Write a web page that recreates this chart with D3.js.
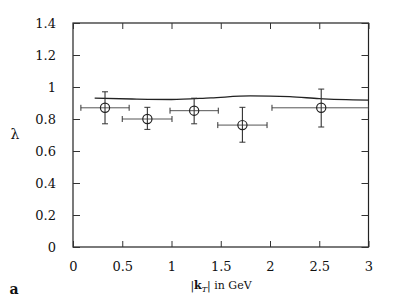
<!DOCTYPE html>
<html><head><meta charset="utf-8">
<script src="https://cdn.jsdelivr.net/npm/d3@7"></script>
<style>body{margin:0;background:#fff}svg{display:block}</style>
</head><body><svg id="c" width="417" height="302"></svg>
<script>
// data
const ptX   = [0.325, 0.755, 1.23, 1.72, 2.52];
const ptY   = [0.870, 0.800, 0.852, 0.762, 0.870];
const xLo   = [0.08, 0.50, 0.985, 1.47, 2.02];
const xHi   = [0.57, 1.005, 1.475, 1.97, 3.0];
const yLo   = [0.77, 0.735, 0.77, 0.655, 0.75];
const yHi   = [0.97, 0.873, 0.93, 0.873, 0.987];
const curveX = [0.22, 0.6, 1.0, 1.4, 1.8, 2.2, 2.5, 3.0];
const curveY = [0.930, 0.925, 0.922, 0.932, 0.944, 0.940, 0.927, 0.918];
const xTicks = [0, 0.5, 1, 1.5, 2, 2.5, 3];
const yTicks = [0, 0.2, 0.4, 0.6, 0.8, 1, 1.2, 1.4];

const SERIF = "DejaVu Serif";
const svg = d3.select("#c");
const L = 73, R = 368.5, T = 23, B = 247;
const x = d3.scaleLinear().domain([0, 3]).range([L, R]);
const y = d3.scaleLinear().domain([0, 1.4]).range([B, T]);
const fmt = d => d === 0 ? "0" : String(d);

// frame
svg.append("rect").attr("x", L).attr("y", T).attr("width", R - L).attr("height", B - T)
  .attr("fill", "none").attr("stroke", "#222").attr("stroke-width", 1.2);

// axes (inner ticks)
const axB = d3.axisBottom(x).tickValues(xTicks).tickSize(-6).tickPadding(15).tickFormat(fmt);
const axT = d3.axisTop(x).tickValues(xTicks).tickSize(-6).tickFormat("");
const axL = d3.axisLeft(y).tickValues(yTicks).tickSize(-7).tickPadding(17).tickFormat(fmt);
const axR = d3.axisRight(y).tickValues(yTicks).tickSize(-7).tickFormat("");
function style(g){ g.attr("font-family", SERIF).attr("font-size", 13);
  g.select(".domain").remove(); g.selectAll(".tick line").attr("stroke","#333");
  g.selectAll("text").attr("fill","#111"); }
svg.append("g").attr("transform", `translate(0,${B})`).call(axB).call(style);
svg.append("g").attr("transform", `translate(0,${T})`).call(axT).call(style);
svg.append("g").attr("transform", `translate(${L},0)`).call(axL).call(style);
svg.append("g").attr("transform", `translate(${R},0)`).call(axR).call(style);

// curve
svg.append("path").datum(curveX.map((v, i) => [v, curveY[i]]))
  .attr("d", d3.line().x(d => x(d[0])).y(d => y(d[1])).curve(d3.curveMonotoneX))
  .attr("fill", "none").attr("stroke", "#222").attr("stroke-width", 1.3);

// error bars
const g = svg.append("g");
const cap = 3;
ptX.forEach((px, i) => {
  const cx = x(px), cy = y(ptY[i]);
  g.append("line").attr("x1", x(xLo[i])).attr("x2", x(xHi[i])).attr("y1", cy).attr("y2", cy)
    .attr("stroke", "#555").attr("stroke-width", 1);
  [xLo[i], xHi[i]].forEach(v => g.append("line").attr("x1", x(v)).attr("x2", x(v))
    .attr("y1", cy - cap).attr("y2", cy + cap).attr("stroke", "#333").attr("stroke-width", 1));
  g.append("line").attr("x1", cx).attr("x2", cx).attr("y1", y(yLo[i])).attr("y2", y(yHi[i]))
    .attr("stroke", "#333").attr("stroke-width", 1.1);
  [yLo[i], yHi[i]].forEach(v => g.append("line").attr("x1", cx - cap).attr("x2", cx + cap)
    .attr("y1", y(v)).attr("y2", y(v)).attr("stroke", "#333").attr("stroke-width", 1));
  g.append("circle").attr("cx", cx).attr("cy", cy).attr("r", 4.6)
    .attr("fill", "none").attr("stroke", "#222").attr("stroke-width", 1.2);
});

// labels
const lab = svg.append("g").attr("font-family", SERIF).attr("fill", "#111");
lab.append("text").attr("x", 15).attr("y", 139).attr("text-anchor", "middle")
  .attr("font-size", 14).text("λ");
const xl = lab.append("text").attr("x", 221).attr("y", 289).attr("text-anchor", "middle").attr("font-size", 11);
xl.append("tspan").text("|");
xl.append("tspan").attr("font-weight", "bold").text("k");
xl.append("tspan").attr("font-style", "italic").attr("font-size", 8).attr("dy", 3).text("T");
xl.append("tspan").attr("dy", -3).text("| in GeV");
lab.append("text").attr("x", 14).attr("y", 294).attr("text-anchor", "middle")
  .attr("font-size", 14).attr("font-weight", "bold").text("a");
</script></body></html>
